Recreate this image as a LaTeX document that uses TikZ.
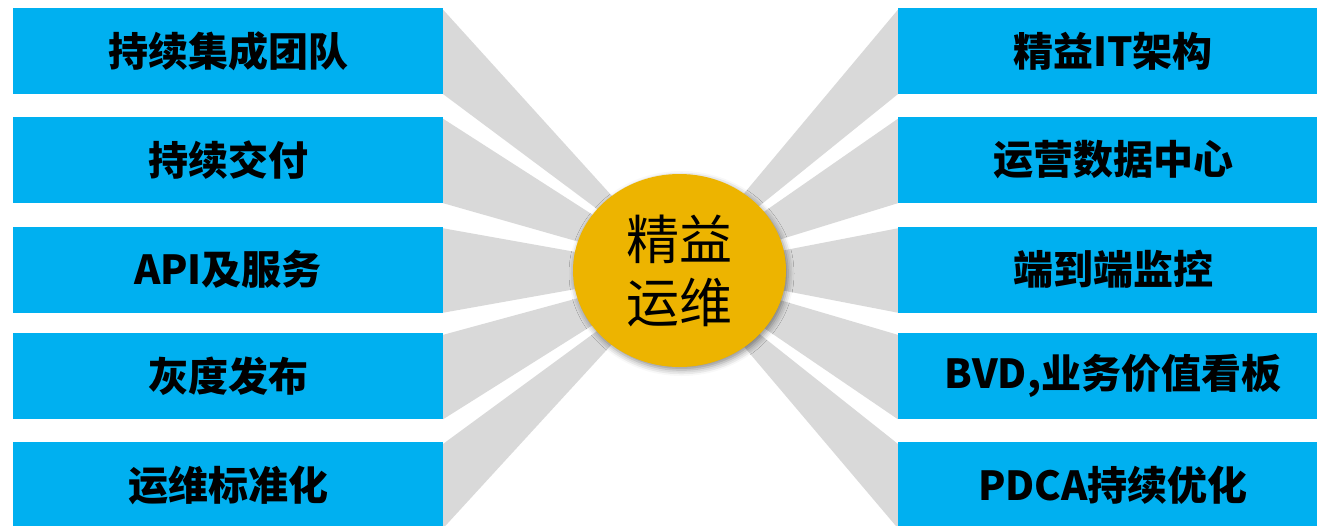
\documentclass[tikz,border=0pt]{standalone}
\usepackage{fontspec}
\newfontfamily\cjk{Noto Sans CJK SC}
\usetikzlibrary{shapes.geometric,shadows.blur,backgrounds}
\definecolor{boxblue}{HTML}{00B0F0}
\definecolor{wedgegrey}{HTML}{D9D9D9}
\definecolor{gold}{HTML}{EDB400}
\tikzset{
  itembox/.style={rectangle, fill=boxblue, minimum width=430pt, minimum height=86pt, inner sep=0pt,
    font=\cjk\bfseries\fontsize{40}{44}\selectfont, text=black},
  wedge/.style={fill=wedgegrey},
  hub/.style={ellipse, fill=gold, minimum width=213pt, minimum height=193pt, inner sep=0pt, align=center,
    font=\cjk\fontsize{53}{63}\selectfont,
    blur shadow={shadow xshift=2pt, shadow yshift=-3pt, shadow blur radius=6pt, shadow opacity=45}}
}
\begin{document}
\begin{tikzpicture}[x=1pt,y=-1pt]
\useasboundingbox (0,0) rectangle (1317,525);
\clip (0,0) rectangle (1317,525);
\node[itembox] (L1) at (228,51) {持续集成团队};
\node[itembox] (L2) at (228,160) {持续交付};
\node[itembox] (L3) at (228,269.5) {API及服务};
\node[itembox] (L4) at (228,376) {灰度发布};
\node[itembox] (L5) at (228,485) {运维标准化};
\node[itembox] (R1) at (1113,51) {精益IT架构};
\node[itembox] (R2) at (1113,160) {运营数据中心};
\node[itembox] (R3) at (1113,269.5) {端到端监控};
\node[itembox] (R4) at (1113,376) {BVD,业务价值看板};
\node[itembox] (R5) at (1113,485) {PDCA持续优化};
\node[hub] (C) at (679.5,270.5) {精益\\运维};
\begin{pgfonlayer}{background}
\foreach \b in {L1,L2,L3,L4,L5}{
  \fill[wedge] ([yshift=-2pt]\b.north east) -- (\b.south east) -- (C.center) -- cycle;
}
\foreach \b in {R1,R2,R3,R4,R5}{
  \fill[wedge] ([yshift=-2pt]\b.north west) -- (\b.south west) -- (C.center) -- cycle;
}
\end{pgfonlayer}
\end{tikzpicture}
\end{document}
